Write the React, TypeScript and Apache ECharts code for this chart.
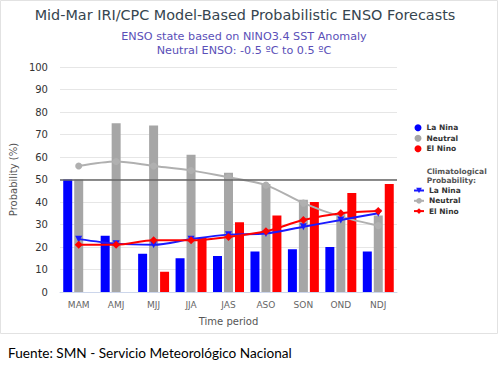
import React, { useEffect, useRef } from 'react';
import * as echarts from 'echarts';

const categories = ['MAM', 'AMJ', 'MJJ', 'JJA', 'JAS', 'ASO', 'SON', 'OND', 'NDJ'];
const laNina = [50, 25, 17, 15, 16, 18, 19, 20, 18];
const neutral = [50, 75, 74, 61, 53, 48, 41, 35, 34];
const elNino = [0, 0, 9, 24, 31, 34, 40, 44, 48];
const climLaNina = [23.5, 21.5, 21, 23.5, 25.5, 26, 29, 32, 35];
const climNeutral = [56, 58, 56, 54, 51, 47.5, 39.5, 33.5, 29.5];
const climElNino = [21, 21, 23, 23, 24.5, 27, 32, 35, 36];
const yTicks = { min: 0, max: 100, interval: 10 };

const FONT = 'DejaVu Sans';

export default function App() {
  const ref = useRef<HTMLDivElement>(null);
  useEffect(() => {
    const chart = echarts.init(ref.current!, null, { renderer: 'svg' });
    chart.setOption({
      animation: false,
      backgroundColor: '#ffffff',
      textStyle: { fontFamily: FONT },
      grid: { left: 54, right: 104, top: 67, bottom: 78 },
      xAxis: {
        type: 'category',
        data: categories,
        name: 'Time period',
        nameLocation: 'middle',
        nameGap: 24,
        nameTextStyle: { fontSize: 10, color: '#555', fontFamily: FONT },
        axisLine: { lineStyle: { color: '#ccd6eb', width: 1 } },
        axisTick: { length: 5, lineStyle: { color: '#ccd6eb' } },
        axisLabel: { fontSize: 9, color: '#666', margin: 8, fontFamily: FONT },
        splitLine: { show: false },
      },
      yAxis: {
        type: 'value',
        min: yTicks.min,
        max: yTicks.max,
        interval: yTicks.interval,
        name: 'Probability (%)',
        nameLocation: 'middle',
        nameRotate: 90,
        nameGap: 35,
        nameTextStyle: { fontSize: 10, color: '#555', fontFamily: FONT },
        axisLine: { show: false },
        axisTick: { show: false },
        axisLabel: { fontSize: 10, color: '#333', margin: 12, fontFamily: FONT },
        splitLine: { lineStyle: { color: '#e6e6e6', width: 1 } },
      },
      legend: [
        {
          data: ['La Nina', 'Neutral', 'El Nino'],
          orient: 'vertical',
          left: 414.5,
          top: 123.8,
          padding: 0,
          itemWidth: 7,
          itemHeight: 7,
          itemGap: 2.5,
          icon: 'circle',
          selectedMode: false,
          textStyle: { fontSize: 7.5, fontWeight: 'bold', color: '#333', lineHeight: 7, fontFamily: FONT },
        },
        {
          data: ['Clim La Nina', 'Clim Neutral', 'Clim El Nino'],
          orient: 'vertical',
          left: 413,
          top: 186.5,
          padding: 0,
          itemWidth: 10,
          itemHeight: 7,
          itemGap: 2.3,
          selectedMode: false,
          formatter: (n: string) => n.replace('Clim ', ''),
          textStyle: { fontSize: 7.5, fontWeight: 'bold', color: '#333', lineHeight: 7, fontFamily: FONT },
        },
      ],
      graphic: [
        {
          type: 'rect',
          shape: { x: 0.5, y: 0.5, width: 497, height: 333 },
          style: { fill: 'none', stroke: '#e2e2e2', lineWidth: 1 },
          silent: true,
        },
        {
          type: 'text',
          x: 245,
          y: 15,
          style: {
            text: 'Mid-Mar IRI/CPC Model-Based Probabilistic ENSO Forecasts',
            textAlign: 'center',
            textVerticalAlign: 'middle',
            fontSize: 14.4,
            fontFamily: FONT,
            fill: '#36454f',
          },
        },
        {
          type: 'text',
          x: 244,
          y: 36,
          style: {
            text: 'ENSO state based on NINO3.4 SST Anomaly',
            textAlign: 'center',
            textVerticalAlign: 'middle',
            fontSize: 11.2,
            fontFamily: FONT,
            fill: '#5a4fb8',
          },
        },
        {
          type: 'text',
          x: 244,
          y: 50.5,
          style: {
            text: 'Neutral ENSO: -0.5 \u00baC to 0.5 \u00baC',
            textAlign: 'center',
            textVerticalAlign: 'middle',
            fontSize: 11.2,
            fontFamily: FONT,
            fill: '#5a4fb8',
          },
        },
        {
          type: 'text',
          x: 426.7,
          y: 171.7,
          style: {
            text: 'Climatological',
            textAlign: 'left',
            textVerticalAlign: 'middle',
            fontSize: 7.5,
            fontWeight: 'bold',
            fontFamily: FONT,
            fill: '#555',
          },
        },
        {
          type: 'text',
          x: 426.7,
          y: 180.7,
          style: {
            text: 'Probability:',
            textAlign: 'left',
            textVerticalAlign: 'middle',
            fontSize: 7.5,
            fontWeight: 'bold',
            fontFamily: FONT,
            fill: '#555',
          },
        },
        {
          type: 'text',
          x: 8,
          y: 353,
          style: {
            text: 'Fuente: SMN - Servicio Meteorológico Nacional',
            textAlign: 'left',
            textVerticalAlign: 'middle',
            fontSize: 13.6,
            fontFamily: 'Lato',
            fill: '#000',
          },
        },
      ],
      series: [
        {
          name: 'La Nina',
          type: 'bar',
          data: laNina,
          barWidth: 9,
          barGap: '22%',
          itemStyle: { color: '#0000ff' },
          z: 2,
        },
        {
          name: 'Neutral',
          type: 'bar',
          data: neutral,
          barWidth: 9,
          barGap: '22%',
          itemStyle: { color: '#a6a6a6' },
          z: 2,
        },
        {
          name: 'El Nino',
          type: 'bar',
          data: elNino,
          barWidth: 9,
          barGap: '22%',
          itemStyle: { color: '#ff0000' },
          z: 2,
        },
        {
          name: 'Clim Neutral',
          type: 'line',
          data: climNeutral,
          smooth: 0.3,
          symbol: 'circle',
          symbolSize: 7,
          itemStyle: { color: '#b0b0b0' },
          lineStyle: { color: '#b0b0b0', width: 2 },
          z: 3,
          markLine: {
            silent: true,
            symbol: 'none',
            label: { show: false },
            lineStyle: { color: '#666', width: 1.5, type: 'solid' },
            data: [{ yAxis: 50 }],
            z: 5,
          },
        },
        {
          name: 'Clim La Nina',
          type: 'line',
          data: climLaNina,
          smooth: 0.3,
          symbol: 'triangle',
          symbolRotate: 180,
          symbolSize: 7,
          itemStyle: { color: '#1a1aff' },
          lineStyle: { color: '#1a1aff', width: 2 },
          z: 4,
        },
        {
          name: 'Clim El Nino',
          type: 'line',
          data: climElNino,
          smooth: 0.3,
          symbol: 'diamond',
          symbolSize: 8,
          itemStyle: { color: '#ff0000' },
          lineStyle: { color: '#ff0000', width: 2 },
          z: 4,
        },
      ],
    });
    return () => chart.dispose();
  }, []);
  return (
    <div
      ref={ref}
      style={{ position: 'absolute', left: 0, top: 0, width: 501, height: 370, background: '#fff' }}
    />
  );
}
